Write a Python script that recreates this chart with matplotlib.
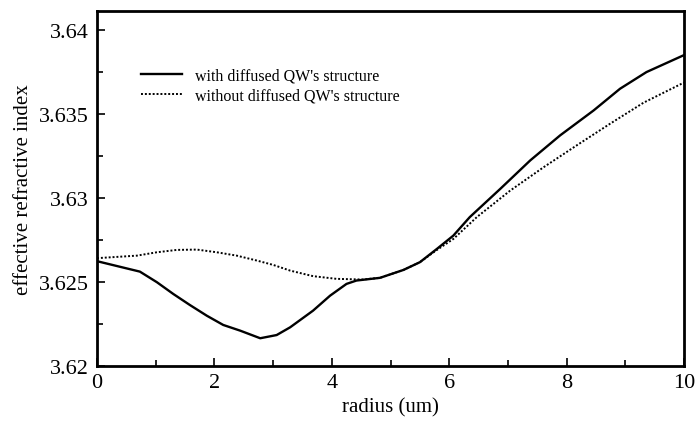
import numpy as np
import matplotlib
matplotlib.use("Agg")
import matplotlib.pyplot as plt
from matplotlib.ticker import MultipleLocator

# Datos
r_with = [0.0, 0.73, 1.02, 1.30, 1.58, 1.87, 2.15, 2.44, 2.78, 3.06, 3.29, 3.68,
          3.97, 4.25, 4.42, 4.82, 5.22, 5.50, 5.79, 6.07, 6.35, 6.87, 7.38, 7.89,
          8.46, 8.91, 9.36, 10.0]
n_with = [3.62623, 3.62561, 3.62498, 3.62428, 3.62363, 3.62299, 3.62244, 3.6221,
          3.62165, 3.62184, 3.6223, 3.62329, 3.62418, 3.62488, 3.62508, 3.62524,
          3.62571, 3.62617, 3.62696, 3.62775, 3.62885, 3.63053, 3.63222, 3.63371,
          3.63519, 3.63648, 3.63747, 3.63848]

r_without = [0.0, 0.68, 1.02, 1.36, 1.70, 2.04, 2.38, 2.72, 3.0, 3.29, 3.68, 4.08,
             4.53, 4.82, 5.22, 5.50, 5.79, 6.07, 6.47, 7.04, 7.61, 8.17, 8.74, 9.31,
             10.0]
n_without = [3.62641, 3.62656, 3.62676, 3.6269, 3.62692, 3.62676, 3.62656, 3.62627,
             3.62601, 3.62567, 3.62534, 3.62518, 3.62514, 3.62524, 3.62571, 3.62617,
             3.62690, 3.62755, 3.62885, 3.63043, 3.63182, 3.63311, 3.6344, 3.63565,
             3.63685]

labels = ["with diffused QW's structure", "without diffused QW's structure"]

plt.rcParams['font.family'] = ['Liberation Serif', 'DejaVu Serif']

fig = plt.figure(figsize=(6.98, 4.27), dpi=100)
ax = fig.add_axes([0.139, 0.1405, 0.841, 0.8314])

ax.plot(r_with, n_with, color='black', lw=1.7, label=labels[0])
ax.plot(r_without, n_without, color='black', lw=1.4, ls=(0, (1, 1)), label=labels[1])

ax.set_xlim(0, 10)
ax.set_ylim(3.62, 3.6411)
ax.xaxis.set_major_locator(MultipleLocator(2))
ax.xaxis.set_minor_locator(MultipleLocator(1))
ax.yaxis.set_minor_locator(MultipleLocator(0.0025))
ax.set_yticks([3.62, 3.625, 3.63, 3.635, 3.64])
ax.set_yticklabels(['3.62', '3.625', '3.63', '3.635', '3.64'])
ax.tick_params(which='both', direction='in', labelsize=16, width=1.2)
ax.tick_params(which='major', length=6)
ax.tick_params(which='minor', length=4)
ax.tick_params(axis='y', pad=6)
ax.tick_params(axis='x', pad=5)
for s in ax.spines.values():
    s.set_linewidth(2)

ax.set_xlabel('radius (um)', fontsize=15, labelpad=4)
ax.set_ylabel('effective refractive index', fontsize=15, labelpad=4)

ax.legend(loc='upper left', bbox_to_anchor=(0.05, 0.88), frameon=False,
          fontsize=11.5, handlelength=2.6, handletextpad=0.8, labelspacing=0.25)

fig.savefig('out.png', dpi=100)
